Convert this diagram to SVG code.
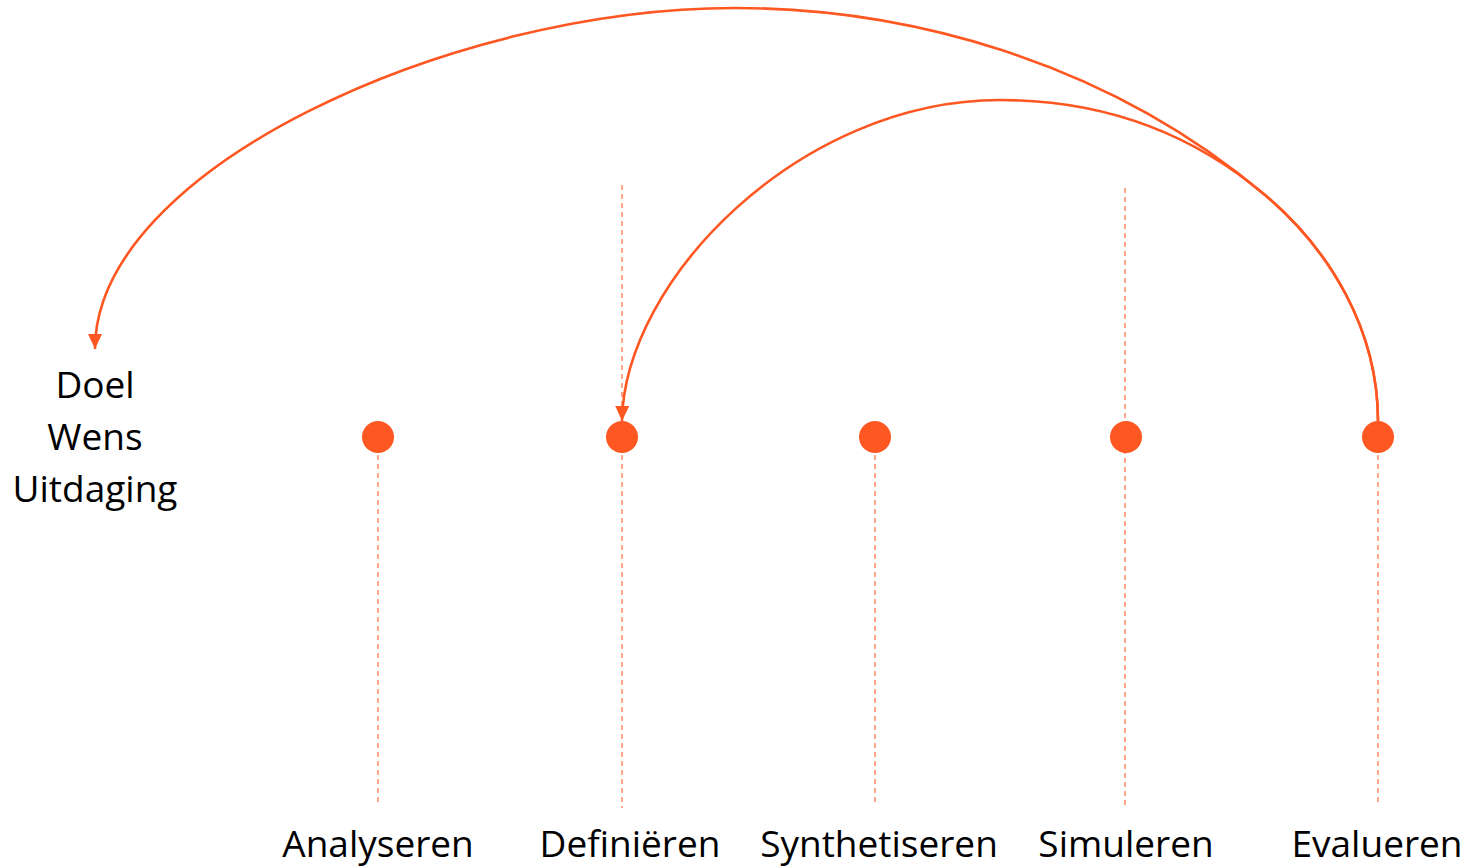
<svg xmlns="http://www.w3.org/2000/svg" width="1467" height="866" viewBox="0 0 1467 866">
<style>
.lbl{font-family:"Open Sans","Noto Sans","Liberation Sans",sans-serif;font-size:37px;fill:#000;text-anchor:middle}
.dash{stroke:#FF6A3D;stroke-width:1.2;stroke-dasharray:5 4;fill:none}
.dot{fill:#FF5722}
.conn{stroke:#FF5722;stroke-width:2.6;fill:none}
</style>
<defs>
<marker id="arr" markerUnits="userSpaceOnUse" markerWidth="16" markerHeight="16" refX="15" refY="7" orient="auto">
<path d="M0,0 L15,7 L0,14 z" fill="#FF5722"/>
</marker>
</defs>
<rect width="1467" height="866" fill="#fff"/>
<g id="guides">
<line class="dash" x1="378" y1="455" x2="378" y2="802"/>
<line class="dash" x1="622" y1="185" x2="622" y2="808"/>
<line class="dash" x1="875" y1="455" x2="875" y2="802"/>
<line class="dash" x1="1125" y1="188" x2="1125" y2="806"/>
<line class="dash" x1="1378" y1="455" x2="1378" y2="802"/>
</g>
<g id="connectors">
<path class="conn" marker-end="url(#arr)" d="M1378,421 C1378,330 1330,250 1265,195 C1102,57 900,8 735,8 C450,8 95,170 95,349"/>
<path class="conn" marker-end="url(#arr)" d="M1378,421 C1378,330 1330,250 1265,195 C1190,131.5 1100,100 1000,100 C800,100 624,280 622,421"/>
</g>
<g id="goal">
<text class="lbl" x="95" y="398">Doel</text>
<text class="lbl" x="95" y="450">Wens</text>
<text class="lbl" x="95" y="502">Uitdaging</text>
</g>
<g id="analyseren">
<circle class="dot" cx="378" cy="437" r="16"/>
<text class="lbl" x="378" y="857">Analyseren</text>
</g>
<g id="definieren">
<circle class="dot" cx="622" cy="437" r="16"/>
<text class="lbl" x="630" y="857">Definiëren</text>
</g>
<g id="synthetiseren">
<circle class="dot" cx="875" cy="437" r="16"/>
<text class="lbl" x="879" y="857">Synthetiseren</text>
</g>
<g id="simuleren">
<circle class="dot" cx="1126" cy="437" r="16"/>
<text class="lbl" x="1126" y="857">Simuleren</text>
</g>
<g id="evalueren">
<circle class="dot" cx="1378" cy="437" r="16"/>
<text class="lbl" x="1377" y="857">Evalueren</text>
</g>
</svg>
